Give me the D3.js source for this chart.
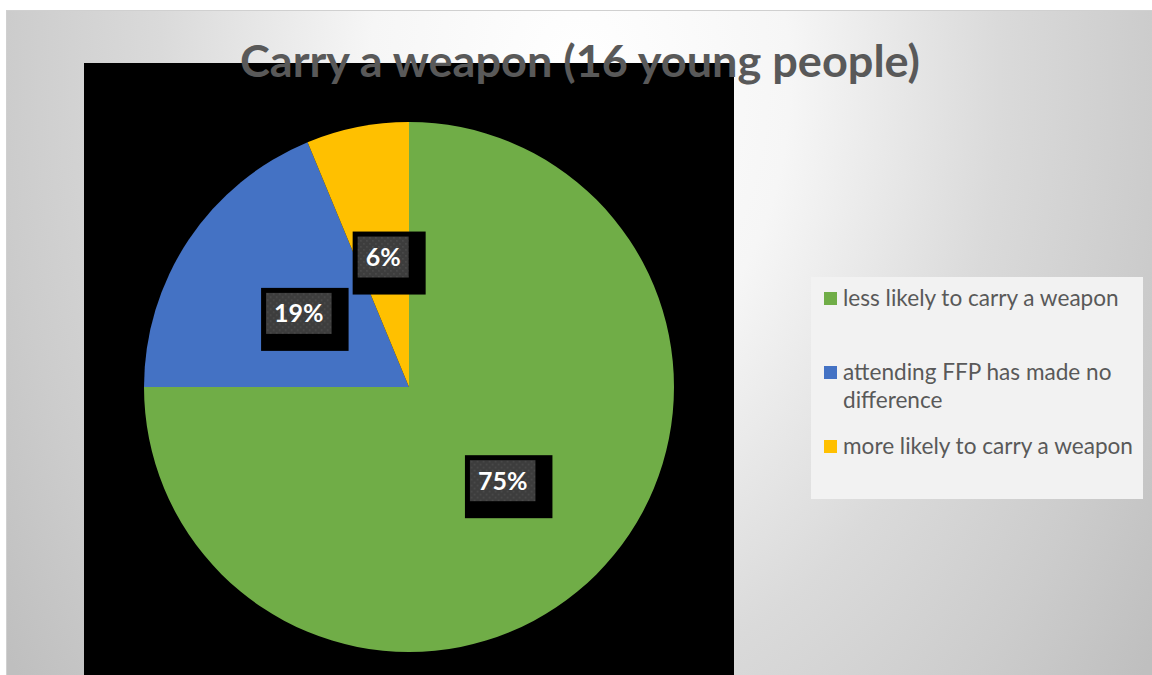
<!DOCTYPE html>
<html>
<head>
<meta charset="utf-8">
<script src="https://cdn.jsdelivr.net/npm/d3@7"></script>
<style>
html,body{margin:0;padding:0;background:#fff;}
svg{display:block;}
</style>
</head>
<body>
<svg id="chart" width="1152" height="675"></svg>
<script>
const title = "Carry a weapon (16 young people)";
const categories = ["less likely to carry a weapon", "attending FFP has made no difference", "more likely to carry a weapon"];
const legendLines = [["less likely to carry a weapon"], ["attending FFP has made no", "difference"], ["more likely to carry a weapon"]];
const counts = [12, 3, 1];
const labels = ["75%", "19%", "6%"];
const colors = ["#70AD47", "#4472C4", "#FFC000"];

const svg = d3.select("#chart");
const defs = svg.append("defs");

const bg = defs.append("radialGradient").attr("id", "bg")
  .attr("gradientUnits", "userSpaceOnUse")
  .attr("cx", 0).attr("cy", 0).attr("r", 1)
  .attr("gradientTransform", "translate(580,80) scale(700,1000)");
[[0, "#ffffff"], [0.3, "#f6f6f6"], [0.6, "#dadada"], [0.82, "#cccccc"], [1, "#bfbfbf"]].forEach(s =>
  bg.append("stop").attr("offset", s[0]).attr("stop-color", s[1]));

const pat = defs.append("pattern").attr("id", "dots")
  .attr("patternUnits", "userSpaceOnUse").attr("width", 6).attr("height", 6);
pat.append("rect").attr("width", 6).attr("height", 6).attr("fill", "#3d3d3d");
pat.append("rect").attr("x", 1).attr("y", 1).attr("width", 1.6).attr("height", 1.6).attr("fill", "#4c4c4c");
pat.append("rect").attr("x", 4).attr("y", 4).attr("width", 1.6).attr("height", 1.6).attr("fill", "#4c4c4c");

// chart frame
svg.append("rect").attr("x", 6.5).attr("y", 10.5).attr("width", 1150).attr("height", 670)
  .attr("fill", "url(#bg)").attr("stroke", "#d0d0d0").attr("stroke-width", 1);

// plot area
svg.append("rect").attr("x", 84).attr("y", 63).attr("width", 650).attr("height", 620).attr("fill", "#000");

// pie
const cx = 409, cy = 387, R = 265;
const pie = d3.pie().sort(null).value(d => d);
const arcs = pie(counts);
const arc = d3.arc().innerRadius(0).outerRadius(R);
const g = svg.append("g").attr("transform", `translate(${cx},${cy})`);
g.selectAll("path.slice").data(arcs).join("path")
  .attr("class", "slice")
  .attr("d", arc)
  .attr("fill", (d, i) => colors[i]);

// data labels
const lg = g.selectAll("g.lbl").data(arcs).join("g").attr("class", "lbl")
  .attr("transform", d => { const c = arc.centroid(d); return `translate(${c[0]},${c[1]})`; });
lg.each(function(d, i) {
  const s = d3.select(this);
  const t = s.append("text").text(labels[i])
    .attr("text-anchor", "middle").attr("dy", "0.36em")
    .attr("font-family", "Lato, 'Open Sans', sans-serif").attr("font-weight", "bold")
    .attr("font-size", 25).attr("fill", "#ffffff");
  const w = t.node().getComputedTextLength();
  const iw = w + 16, ih = 41;
  s.insert("rect", "text").attr("x", -iw / 2 - 5).attr("y", -ih / 2 - 5)
    .attr("width", iw + 22).attr("height", ih + 22).attr("fill", "#000");
  s.insert("rect", "text").attr("x", -iw / 2).attr("y", -ih / 2)
    .attr("width", iw).attr("height", ih).attr("fill", "url(#dots)");
});

// title
svg.append("text").text(title)
  .attr("x", 580).attr("y", 77).attr("text-anchor", "middle")
  .attr("font-family", "Lato, 'Open Sans', sans-serif").attr("font-weight", "bold")
  .attr("font-size", 44).attr("fill", "#595959")
  .attr("textLength", 680).attr("lengthAdjust", "spacingAndGlyphs");

// legend
svg.append("rect").attr("x", 811).attr("y", 277).attr("width", 332).attr("height", 222).attr("fill", "#f2f2f2");
const baselines = [306, 380, 454];
const lineH = 27.5;
const leg = svg.append("g");
legendLines.forEach((lines, i) => {
  leg.append("rect").attr("x", 824).attr("y", baselines[i] - 14).attr("width", 13).attr("height", 13).attr("fill", colors[i]);
  const tx = leg.append("text").attr("x", 843).attr("y", baselines[i])
    .attr("font-family", "Lato, 'Open Sans', sans-serif").attr("font-size", 22.6).attr("fill", "#595959");
  lines.forEach((ln, j) => {
    tx.append("tspan").attr("x", 843).attr("y", baselines[i] + j * lineH).text(ln);
  });
});
</script>
</body>
</html>
